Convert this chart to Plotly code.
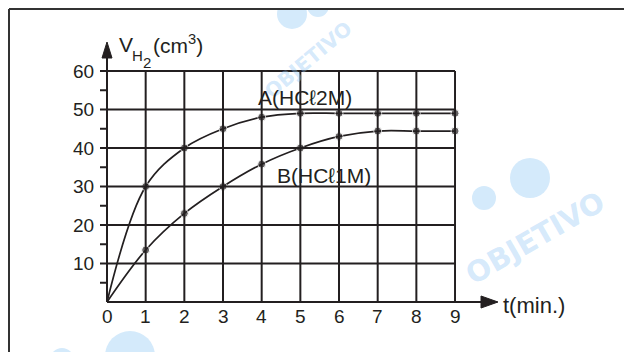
import plotly.graph_objects as go

# ---- data ----
t_values = [0, 1, 2, 3, 4, 5, 6, 7, 8, 9]
volume_A = [0, 30, 40, 45, 48, 49, 49, 49, 49, 49]
volume_B = [0, 13.5, 23, 30, 35.8, 40, 43, 44.4, 44.4, 44.4]
x_ticks = [0, 1, 2, 3, 4, 5, 6, 7, 8, 9]
y_ticks = [10, 20, 30, 40, 50, 60]
y_minor = [5, 15, 25, 35, 45, 55]
label_A = "A(HCℓ2M)"
label_B = "B(HCℓ1M)"

WIN_W, WIN_H = 632, 352
OFF = 8                      # page body margin
W, H = WIN_W - OFF, WIN_H - OFF
X0, SX = 107.0, 38.67        # window pixel of t=0, pixels per minute
Y0, SY = 302.0, 3.85         # window pixel of V=0, pixels per cm3

def dx(px):
    return (px - X0) / SX

def dy(py):
    return (Y0 - py) / SY

INK = "#231f20"
FONT = "Liberation Sans, Arial, sans-serif"

fig = go.Figure()

for vals in (volume_A, volume_B):
    fig.add_trace(go.Scatter(
        x=t_values, y=vals, mode="lines+markers",
        line=dict(color=INK, width=1.7, shape="spline", smoothing=1.0),
        marker=dict(color=INK, size=[0] + [8] * (len(vals) - 1)),
        hoverinfo="skip", showlegend=False))

shapes = []
xmax, ymax = x_ticks[-1], y_ticks[-1]
for t in x_ticks[1:]:
    shapes.append(dict(type="line", xref="x", yref="y", x0=t, x1=t, y0=0, y1=ymax,
                       line=dict(color=INK, width=2)))
for v in y_ticks:
    shapes.append(dict(type="line", xref="x", yref="y", x0=0, x1=xmax, y0=v, y1=v,
                       line=dict(color=INK, width=2)))
for v in y_ticks + y_minor:
    shapes.append(dict(type="line", xref="x", yref="y", x0=dx(100), x1=0, y0=v, y1=v,
                       line=dict(color=INK, width=2)))
x_tip, y_tip = dx(498), dy(42)
shapes.append(dict(type="line", xref="x", yref="y", x0=0, x1=dx(484), y0=0, y1=0,
                   line=dict(color=INK, width=2)))
shapes.append(dict(type="line", xref="x", yref="y", x0=0, x1=0, y0=0, y1=dy(56),
                   line=dict(color=INK, width=2)))
shapes.append(dict(type="path", xref="x", yref="y", xsizemode="pixel", ysizemode="pixel",
                   xanchor=x_tip, yanchor=0, path="M0,0 L-17,6 L-17,-6 Z",
                   fillcolor=INK, line=dict(color=INK, width=1)))
shapes.append(dict(type="path", xref="x", yref="y", xsizemode="pixel", ysizemode="pixel",
                   xanchor=0, yanchor=y_tip, path="M0,0 L-5,-16 L5,-16 Z",
                   fillcolor=INK, line=dict(color=INK, width=1)))
# frame (top and left)
shapes.append(dict(type="line", xref="paper", yref="paper", x0=1 / W, x1=1.01,
                   y0=1 - 1 / H, y1=1 - 1 / H, line=dict(color="#333", width=2)))
shapes.append(dict(type="line", xref="paper", yref="paper", x0=1 / W, x1=1 / W,
                   y0=1 - 1 / H, y1=-0.01, line=dict(color="#333", width=2)))

# watermark blobs (below)
WM = "rgb(212,234,251)"
for cx, cy, r in [(530, 178, 20), (484, 198, 12), (292, 14, 15), (318, 6, 11),
                  (130, 356, 25), (62, 360, 12)]:
    shapes.append(dict(type="circle", xref="x", yref="y", layer="below",
                       x0=dx(cx - r), x1=dx(cx + r), y0=dy(cy + r), y1=dy(cy - r),
                       fillcolor=WM, line=dict(width=0)))

annotations = []
for cx, cy, ang, sz in [(535, 238, -30, 29), (308, 60, -40, 20)]:
    annotations.append(dict(x=dx(cx), y=dy(cy), xref="x", yref="y", text="<b>OBJETIVO</b>",
                            showarrow=False, textangle=ang,
                            font=dict(family="DejaVu Sans, sans-serif", size=sz,
                                      color="rgba(150,200,245,0.4)")))

tick_font = dict(family=FONT, size=19, color=INK)
lab_font = dict(family=FONT, size=21, color=INK)
for t in x_ticks:
    annotations.append(dict(x=t, y=dy(316), xref="x", yref="y", text=str(t),
                            showarrow=False, font=tick_font, xanchor="center", yanchor="middle"))
for v in y_ticks:
    annotations.append(dict(x=dx(96), y=v, xref="x", yref="y", text=str(v),
                            showarrow=False, font=tick_font, xanchor="right", yanchor="middle"))

annotations.append(dict(x=dx(501), y=dy(305), xref="x", yref="y", text="t(min.)",
                        showarrow=False, font=dict(family=FONT, size=22, color=INK),
                        xanchor="left", yanchor="middle"))
annotations.append(dict(x=dx(117), y=dy(44), xref="x", yref="y", text="V",
                        showarrow=False, font=lab_font, xanchor="left", yanchor="middle"))
annotations.append(dict(x=dx(130), y=dy(55), xref="x", yref="y", text="H",
                        showarrow=False, font=dict(family=FONT, size=15, color=INK),
                        xanchor="left", yanchor="middle"))
annotations.append(dict(x=dx(141), y=dy(62), xref="x", yref="y", text="2",
                        showarrow=False, font=dict(family=FONT, size=15, color=INK),
                        xanchor="left", yanchor="middle"))
annotations.append(dict(x=dx(151), y=dy(44), xref="x", yref="y", text="(cm<sup>3</sup>)",
                        showarrow=False, font=lab_font, xanchor="left", yanchor="middle"))

annotations.append(dict(x=dx(256), y=dy(97), xref="x", yref="y", text=label_A,
                        showarrow=False, font=lab_font, xanchor="left", yanchor="middle"))
annotations.append(dict(x=dx(275), y=dy(175), xref="x", yref="y", text=label_B,
                        showarrow=False, font=lab_font, xanchor="left", yanchor="middle"))

fig.update_layout(
    width=W, height=H,
    margin=dict(l=0, r=0, t=0, b=0),
    paper_bgcolor="white", plot_bgcolor="white",
    xaxis=dict(range=[dx(OFF), dx(WIN_W)], visible=False, fixedrange=True),
    yaxis=dict(range=[dy(WIN_H), dy(OFF)], visible=False, fixedrange=True),
    shapes=shapes, annotations=annotations, showlegend=False,
)

fig.write_html("out.html")
